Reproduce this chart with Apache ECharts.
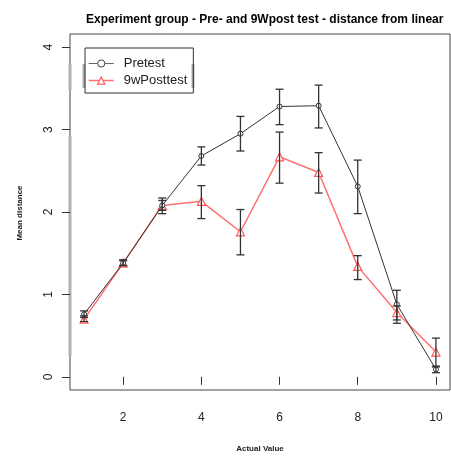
<!DOCTYPE html>
<html>
<head>
<meta charset="utf-8">
<script src="https://cdn.jsdelivr.net/npm/echarts@6/dist/echarts.min.js"></script>
<style>
	html, body { margin: 0; padding: 0; background: #fff; }
	#chart { width: 451px; height: 457px; }
</style>
</head>
<body>
<div id="chart"></div>
<script>
/*数据*/
var actualValue = [1, 2, 3, 4, 5, 6, 7, 8, 9, 10];
var pretestMean = [0.76, 1.38, 2.08, 2.68, 2.95, 3.28, 3.29, 2.31, 0.88, 0.09];
var pretestLow = [0.72, 1.35, 1.98, 2.57, 2.74, 3.06, 3.02, 1.98, 0.69, 0.05];
var pretestHigh = [0.80, 1.42, 2.17, 2.79, 3.16, 3.49, 3.54, 2.63, 1.05, 0.13];
var postMean = [0.70, 1.38, 2.08, 2.13, 1.76, 2.67, 2.48, 1.34, 0.78, 0.30];
var postLow = [0.67, 1.35, 2.02, 1.92, 1.48, 2.35, 2.23, 1.18, 0.65, 0.12];
var postHigh = [0.74, 1.41, 2.14, 2.32, 2.03, 2.97, 2.72, 1.47, 0.86, 0.47];
var xTicks = [2, 4, 6, 8, 10];
var yTicks = [0, 1, 2, 3, 4];

var font = 'Liberation Sans, Arial, sans-serif';

function pairs(ys) {
	return actualValue.map(function(x, i) { return [x, ys[i]]; });
}
function bars(lo, hi) {
	return actualValue.map(function(x, i) { return [x, lo[i], hi[i]]; });
}
/*误差线*/
function errorBar(params, api) {
	var x = api.value(0);
	var p1 = api.coord([x, api.value(1)]);
	var p2 = api.coord([x, api.value(2)]);
	var w = 4;
	var st = { stroke: '#333', lineWidth: 1.3 };
	return {
		type: 'group',
		children: [
			{ type: 'line', shape: { x1: p1[0], y1: p1[1], x2: p2[0], y2: p2[1] }, style: st },
			{ type: 'line', shape: { x1: p1[0] - w, y1: p1[1], x2: p1[0] + w, y2: p1[1] }, style: st },
			{ type: 'line', shape: { x1: p2[0] - w, y1: p2[1], x2: p2[0] + w, y2: p2[1] }, style: st }
		]
	};
}
/*灰色竖条*/
function grayBar(x, y1, y2) {
	return { type: 'rect', shape: { x: x - 1.5, y: y1, width: 3, height: y2 - y1 }, style: { fill: '#b0b0b0' }, z: 0 };
}

var chart = echarts.init(document.getElementById('chart'));
var option = {
	animation: false,
	backgroundColor: '#fff',
	textStyle: { fontFamily: font },
	title: {
		text: 'Experiment group - Pre- and 9Wpost test - distance from linear',
		left: 81,
		top: 9,
		textStyle: { fontSize: 12, fontWeight: 'bold', color: '#000', fontFamily: font }
	},
	legend: {
		orient: 'vertical',
		left: 85,
		top: 48,
		padding: [9, 6, 6, 3],
		itemGap: 4,
		itemWidth: 25,
		itemHeight: 9,
		borderColor: '#333',
		borderWidth: 1,
		textStyle: { fontSize: 13, color: '#222', fontFamily: font, padding: [0, 0, 0, 5] },
		data: [
			{ name: 'Pretest', itemStyle: { color: '#fff', borderColor: '#444', borderWidth: 1 }, lineStyle: { color: '#666', width: 1 } },
			{ name: '9wPosttest', itemStyle: { color: '#fff', borderColor: '#ff5a5a', borderWidth: 1.2 }, lineStyle: { color: '#ff7070', width: 1.5 } }
		]
	},
	grid: {
		left: 70,
		right: 1,
		top: 34,
		bottom: 67,
		show: true,
		borderColor: '#444',
		borderWidth: 1
	},
	xAxis: {
		type: 'value',
		min: 0.64,
		max: 10.36,
		splitLine: { show: false },
		axisLine: { show: false },
		axisTick: { show: true, length: 8, lineStyle: { color: '#333' }, customValues: xTicks },
		axisLabel: { margin: 22, fontSize: 12, color: '#222', customValues: xTicks }
	},
	yAxis: {
		type: 'value',
		min: -0.16,
		max: 4.16,
		splitLine: { show: false },
		axisLine: { show: false },
		axisTick: { show: true, length: 8, lineStyle: { color: '#333' }, customValues: yTicks },
		axisLabel: { margin: 15, fontSize: 12, color: '#222', rotate: 90, customValues: yTicks }
	},
	graphic: [
		grayBar(70, 64, 90),
		grayBar(70, 136, 356),
		grayBar(84, 64, 88),
		grayBar(193, 64, 88),
		{
			type: 'text', x: 20, y: 213, rotation: Math.PI / 2,
			style: { text: 'Mean distance', font: 'bold 8px ' + font, fill: '#222', align: 'center', verticalAlign: 'middle' }
		},
		{
			type: 'text', x: 260, y: 449,
			style: { text: 'Actual Value', font: 'bold 8px ' + font, fill: '#222', align: 'center', verticalAlign: 'middle' }
		}
	],
	series: [
		{
			name: 'Pretest',
			type: 'line',
			data: pairs(pretestMean),
			symbol: 'circle',
			symbolSize: 5,
			itemStyle: { color: '#fff', borderColor: '#333', borderWidth: 1 },
			lineStyle: { color: '#333', width: 1 },
			z: 3
		},
		{
			name: '9wPosttest',
			type: 'line',
			data: pairs(postMean),
			symbol: 'triangle',
			symbolSize: 8,
			itemStyle: { color: '#fff', borderColor: '#ff5a5a', borderWidth: 1.2 },
			lineStyle: { color: '#ff7070', width: 1.5 },
			z: 2
		},
		{
			type: 'custom',
			renderItem: errorBar,
			data: bars(pretestLow, pretestHigh),
			z: 4
		},
		{
			type: 'custom',
			renderItem: errorBar,
			data: bars(postLow, postHigh),
			z: 4
		}
	]
};
chart.setOption(option);
</script>
</body>
</html>
